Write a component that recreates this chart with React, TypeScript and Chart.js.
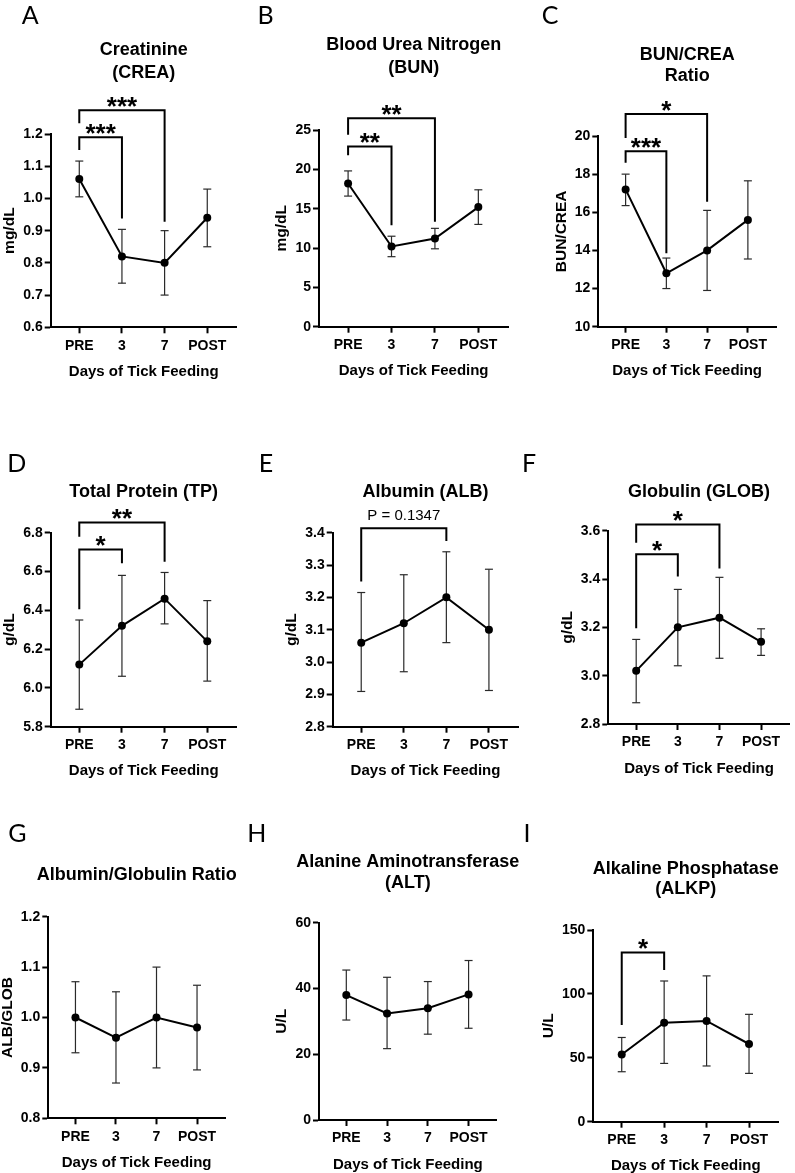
import { useEffect, useRef } from 'react';
import { Chart, registerables } from 'chart.js';

Chart.register(...registerables);

const PAGE_W = 795;
const PAGE_H = 1173;
const FONT = '"Liberation Sans", Arial, Helvetica, sans-serif';
const LETTER_FONT = 'Lato, "Open Sans", sans-serif';

const days = ['PRE', '3', '7', 'POST'];
const xTitle = 'Days of Tick Feeding';

// Creatinine (mg/dL): mean with upper / lower error limits
const creaMean = [1.06, 0.82, 0.8, 0.94];
const creaUpper = [1.116, 0.904, 0.9, 1.029];
const creaLower = [1.005, 0.737, 0.7, 0.85];
const creaTicks = [0.6, 0.7, 0.8, 0.9, 1.0, 1.1, 1.2];

// Blood urea nitrogen (mg/dL)
const bunMean = [18.2, 10.2, 11.2, 15.2];
const bunUpper = [19.8, 11.5, 12.5, 17.4];
const bunLower = [16.6, 8.9, 9.9, 13.0];
const bunTicks = [0, 5, 10, 15, 20, 25];

// BUN/CREA ratio
const ratioMean = [17.2, 12.8, 14.0, 15.6];
const ratioUpper = [18.0, 13.6, 16.1, 17.65];
const ratioLower = [16.35, 12.0, 11.9, 13.55];
const ratioTicks = [10, 12, 14, 16, 18, 20];

// Total protein (g/dL)
const tpMean = [6.12, 6.32, 6.46, 6.24];
const tpUpper = [6.35, 6.58, 6.595, 6.45];
const tpLower = [5.89, 6.06, 6.33, 6.035];
const tpTicks = [5.8, 6.0, 6.2, 6.4, 6.6, 6.8];

// Albumin (g/dL)
const albMean = [3.06, 3.12, 3.2, 3.1];
const albUpper = [3.215, 3.27, 3.341, 3.287];
const albLower = [2.909, 2.97, 3.06, 2.912];
const albTicks = [2.8, 2.9, 3.0, 3.1, 3.2, 3.3, 3.4];

// Globulin (g/dL)
const globMean = [3.02, 3.2, 3.24, 3.14];
const globUpper = [3.15, 3.357, 3.407, 3.194];
const globLower = [2.888, 3.041, 3.072, 3.084];
const globTicks = [2.8, 3.0, 3.2, 3.4, 3.6];

// Albumin/globulin ratio
const agMean = [1.0, 0.96, 1.0, 0.98];
const agUpper = [1.071, 1.051, 1.1, 1.064];
const agLower = [0.93, 0.87, 0.9, 0.896];
const agTicks = [0.8, 0.9, 1.0, 1.1, 1.2];

// Alanine aminotransferase (U/L)
const altMean = [38.0, 32.4, 34.0, 38.2];
const altUpper = [45.6, 43.4, 42.1, 48.5];
const altLower = [30.4, 21.7, 26.1, 27.9];
const altTicks = [0, 20, 40, 60];

// Alkaline phosphatase (U/L)
const alkpMean = [52.6, 77.5, 78.8, 60.8];
const alkpUpper = [65.9, 110.1, 114.1, 84.0];
const alkpLower = [39.1, 45.6, 43.6, 37.8];
const alkpTicks = [0, 50, 100, 150];

// Significance brackets: category indices, bracket level and the two leg ends (y units)
const creaComparisons = [
  { from: 0, to: 1, level: 1.19, fromEnd: 1.15, toEnd: 0.938, label: '***' },
  { from: 0, to: 2, level: 1.274, fromEnd: 1.233, toEnd: 0.928, label: '***' },
];
const bunComparisons = [
  { from: 0, to: 1, level: 22.9, fromEnd: 21.8, toEnd: 12.9, label: '**' },
  { from: 0, to: 2, level: 26.5, fromEnd: 24.4, toEnd: 13.35, label: '**' },
];
const ratioComparisons = [
  { from: 0, to: 1, level: 19.2, fromEnd: 18.6, toEnd: 13.85, label: '***' },
  { from: 0, to: 2, level: 21.15, fromEnd: 19.9, toEnd: 16.55, label: '*' },
];
const tpComparisons = [
  { from: 0, to: 1, level: 6.714, fromEnd: 6.405, toEnd: 6.642, label: '*' },
  { from: 0, to: 2, level: 6.852, fromEnd: 6.779, toEnd: 6.65, label: '**' },
];
const albComparisons = [
  { from: 0, to: 2, level: 3.414, fromEnd: 3.249, toEnd: 3.374, label: 'P = 0.1347' },
];
const globComparisons = [
  { from: 0, to: 1, level: 3.503, fromEnd: 3.196, toEnd: 3.41, label: '*' },
  { from: 0, to: 2, level: 3.626, fromEnd: 3.55, toEnd: 3.444, label: '*' },
];
const alkpComparisons = [
  { from: 0, to: 1, level: 132.3, fromEnd: 75.7, toEnd: 118.7, label: '*' },
];

type Comparison = { from: number; to: number; level: number; fromEnd: number; toEnd: number; label: string };
type Area = { left: number; right: number; top: number; bottom: number };
type PanelSpec = {
  letter: string;
  letterPos: [number, number];
  title: string[];
  titleY: number[];
  yTitle: string;
  decimals: number;
  mean: number[];
  upper: number[];
  lower: number[];
  ticks: number[];
  comparisons: Comparison[];
  area: Area;
};

const panels: PanelSpec[] = [
  {
    letter: 'A', letterPos: [30.3, 24], title: ['Creatinine', '(CREA)'], titleY: [55, 77.5],
    yTitle: 'mg/dL', decimals: 1, mean: creaMean, upper: creaUpper, lower: creaLower, ticks: creaTicks,
    comparisons: creaComparisons, area: { left: 50.7, right: 236.7, top: 134, bottom: 327.3 },
  },
  {
    letter: 'B', letterPos: [265.5, 23.5], title: ['Blood Urea Nitrogen', '(BUN)'], titleY: [50, 72.5],
    yTitle: 'mg/dL', decimals: 0, mean: bunMean, upper: bunUpper, lower: bunLower, ticks: bunTicks,
    comparisons: bunComparisons, area: { left: 319, right: 508.3, top: 130, bottom: 326.7 },
  },
  {
    letter: 'C', letterPos: [550, 23.5], title: ['BUN/CREA', 'Ratio'], titleY: [60, 80.5],
    yTitle: 'BUN/CREA', decimals: 0, mean: ratioMean, upper: ratioUpper, lower: ratioLower, ticks: ratioTicks,
    comparisons: ratioComparisons, area: { left: 598.3, right: 776, top: 136, bottom: 326.7 },
  },
  {
    letter: 'D', letterPos: [16.7, 472], title: ['Total Protein (TP)'], titleY: [496.5],
    yTitle: 'g/dL', decimals: 1, mean: tpMean, upper: tpUpper, lower: tpLower, ticks: tpTicks,
    comparisons: tpComparisons, area: { left: 50.7, right: 236.7, top: 532.7, bottom: 726.7 },
  },
  {
    letter: 'E', letterPos: [266, 472], title: ['Albumin (ALB)'], titleY: [496.5],
    yTitle: 'g/dL', decimals: 1, mean: albMean, upper: albUpper, lower: albLower, ticks: albTicks,
    comparisons: albComparisons, area: { left: 332.7, right: 518.3, top: 532.7, bottom: 726.7 },
  },
  {
    letter: 'F', letterPos: [529, 472], title: ['Globulin (GLOB)'], titleY: [496.5],
    yTitle: 'g/dL', decimals: 1, mean: globMean, upper: globUpper, lower: globLower, ticks: globTicks,
    comparisons: globComparisons, area: { left: 608.3, right: 795, top: 530.7, bottom: 724 },
  },
  {
    letter: 'G', letterPos: [17.5, 842], title: ['Albumin/Globulin Ratio'], titleY: [880],
    yTitle: 'ALB/GLOB', decimals: 1, mean: agMean, upper: agUpper, lower: agLower, ticks: agTicks,
    comparisons: [], area: { left: 48.3, right: 225, top: 916.7, bottom: 1118.3 },
  },
  {
    letter: 'H', letterPos: [256.7, 842], title: ['Alanine Aminotransferase', '(ALT)'], titleY: [866.5, 887.5],
    yTitle: 'U/L', decimals: 0, mean: altMean, upper: altUpper, lower: altLower, ticks: altTicks,
    comparisons: [], area: { left: 319, right: 496.7, top: 922.7, bottom: 1120 },
  },
  {
    letter: 'I', letterPos: [527, 842], title: ['Alkaline Phosphatase', '(ALKP)'], titleY: [873.5, 893.5],
    yTitle: 'U/L', decimals: 0, mean: alkpMean, upper: alkpUpper, lower: alkpLower, ticks: alkpTicks,
    comparisons: alkpComparisons, area: { left: 593.3, right: 778.3, top: 930, bottom: 1121.7 },
  },
];

const X_MIN = -0.67;
const X_MAX = 3.69;
const Y_AXIS_W = 40;
const X_AXIS_H = 40;
const TICK_FONT = { family: FONT, size: 14, weight: 'bold' as const };

function panelText(spec: PanelSpec) {
  return {
    id: 'panelText',
    afterDraw(chart: Chart) {
      const { ctx, chartArea: a, scales } = chart;
      const xs = scales.x;
      const ys = scales.y;
      const cx = (a.left + a.right) / 2;
      ctx.save();
      ctx.fillStyle = '#000';
      ctx.strokeStyle = '#000';
      ctx.textAlign = 'center';
      ctx.textBaseline = 'alphabetic';

      // panel letter
      ctx.font = `400 25px ${LETTER_FONT}`;
      ctx.fillText(spec.letter, spec.letterPos[0], spec.letterPos[1]);

      // title lines
      ctx.font = `bold 18px ${FONT}`;
      spec.title.forEach((t, i) => ctx.fillText(t, cx, spec.titleY[i]));

      // x-axis title
      ctx.font = `bold 15px ${FONT}`;
      ctx.fillText(xTitle, cx, a.bottom + 48.5);

      // significance brackets
      ctx.lineWidth = 2;
      ctx.lineJoin = 'miter';
      ctx.lineCap = 'butt';
      spec.comparisons.forEach((c) => {
        const x1 = xs.getPixelForValue(c.from);
        const x2 = xs.getPixelForValue(c.to);
        const yb = ys.getPixelForValue(c.level);
        ctx.beginPath();
        ctx.moveTo(x1, ys.getPixelForValue(c.fromEnd));
        ctx.lineTo(x1, yb);
        ctx.lineTo(x2, yb);
        ctx.lineTo(x2, ys.getPixelForValue(c.toEnd));
        ctx.stroke();
        if (/^\*+$/.test(c.label)) {
          ctx.font = `bold 26px ${FONT}`;
          ctx.fillText(c.label, (x1 + x2) / 2, yb + 4.5);
        } else {
          ctx.font = `400 15px ${FONT}`;
          ctx.fillText(c.label, (x1 + x2) / 2, yb - 8);
        }
      });

      // y-axis title, rotated, placed beside the widest tick label
      ctx.font = `bold 14px ${FONT}`;
      const maxW = Math.max(...spec.ticks.map((v) => ctx.measureText(v.toFixed(spec.decimals)).width));
      const size = 15.5;
      ctx.font = `bold ${size}px ${FONT}`;
      const capCenter = a.left - 8 - maxW - 14.5;
      ctx.translate(capCenter + 0.358 * size, (a.top + a.bottom) / 2);
      ctx.rotate(-Math.PI / 2);
      ctx.fillText(spec.yTitle, 0, 0);
      ctx.restore();
    },
  };
}

function buildConfig(spec: PanelSpec): any {
  const { area } = spec;
  const axisCommon = {
    grid: {
      display: true,
      drawOnChartArea: false,
      drawTicks: true,
      tickLength: 6,
      tickWidth: 2,
      tickColor: '#000',
      color: '#000',
    },
    border: { display: true, color: '#000', width: 2 },
  };
  const meanSet = {
    data: spec.mean.map((y, i) => ({ x: i, y })),
    borderColor: '#000',
    backgroundColor: '#000',
    borderWidth: 2,
    pointRadius: 4,
    pointBackgroundColor: '#000',
    pointBorderColor: '#000',
    pointBorderWidth: 0,
    clip: false,
    order: 0,
  };
  const errorSets = spec.mean.map((_, i) => ({
    data: [
      { x: i, y: spec.lower[i] },
      { x: i, y: spec.upper[i] },
    ],
    borderColor: '#2a2a2a',
    borderWidth: 1.2,
    pointStyle: 'line',
    pointRadius: 4,
    pointBorderColor: '#2a2a2a',
    pointBorderWidth: 1.2,
    clip: false,
    order: 1,
  }));
  return {
    type: 'line',
    data: { datasets: [meanSet, ...errorSets] },
    options: {
      responsive: false,
      animation: false,
      events: [],
      layout: {
        padding: {
          left: area.left - Y_AXIS_W,
          right: PAGE_W - area.right,
          top: area.top,
          bottom: PAGE_H - area.bottom - X_AXIS_H,
        },
      },
      plugins: {
        legend: { display: false },
        tooltip: { enabled: false },
        title: { display: false },
      },
      scales: {
        x: {
          type: 'linear',
          min: X_MIN,
          max: X_MAX,
          afterFit: (s: any) => {
            s.height = X_AXIS_H;
          },
          afterBuildTicks: (s: any) => {
            s.ticks = days.map((_, i) => ({ value: i }));
          },
          ticks: {
            autoSkip: false,
            maxRotation: 0,
            padding: 4,
            color: '#000',
            font: TICK_FONT,
            callback: (v: number) => days[Math.round(v)] ?? '',
          },
          ...axisCommon,
        },
        y: {
          type: 'linear',
          min: spec.ticks[0],
          max: spec.ticks[spec.ticks.length - 1],
          afterFit: (s: any) => {
            s.width = Y_AXIS_W;
          },
          afterBuildTicks: (s: any) => {
            s.ticks = spec.ticks.map((v) => ({ value: v }));
          },
          ticks: {
            padding: 2,
            color: '#000',
            font: TICK_FONT,
            callback: (v: number) => Number(v).toFixed(spec.decimals),
          },
          ...axisCommon,
        },
      },
    },
    plugins: [panelText(spec)],
  };
}

function Panel({ spec }: { spec: PanelSpec }) {
  const ref = useRef<HTMLCanvasElement>(null);
  useEffect(() => {
    const chart = new Chart(ref.current as HTMLCanvasElement, buildConfig(spec));
    return () => chart.destroy();
  }, [spec]);
  return (
    <canvas
      ref={ref}
      width={PAGE_W}
      height={PAGE_H}
      style={{ position: 'absolute', left: 0, top: 0, width: PAGE_W, height: PAGE_H }}
    />
  );
}

export default function App() {
  return (
    <div
      style={{
        position: 'absolute',
        left: 0,
        top: 0,
        width: PAGE_W,
        height: PAGE_H,
        background: '#fff',
        overflow: 'hidden',
      }}
    >
      {panels.map((p) => (
        <Panel key={p.letter} spec={p} />
      ))}
    </div>
  );
}
